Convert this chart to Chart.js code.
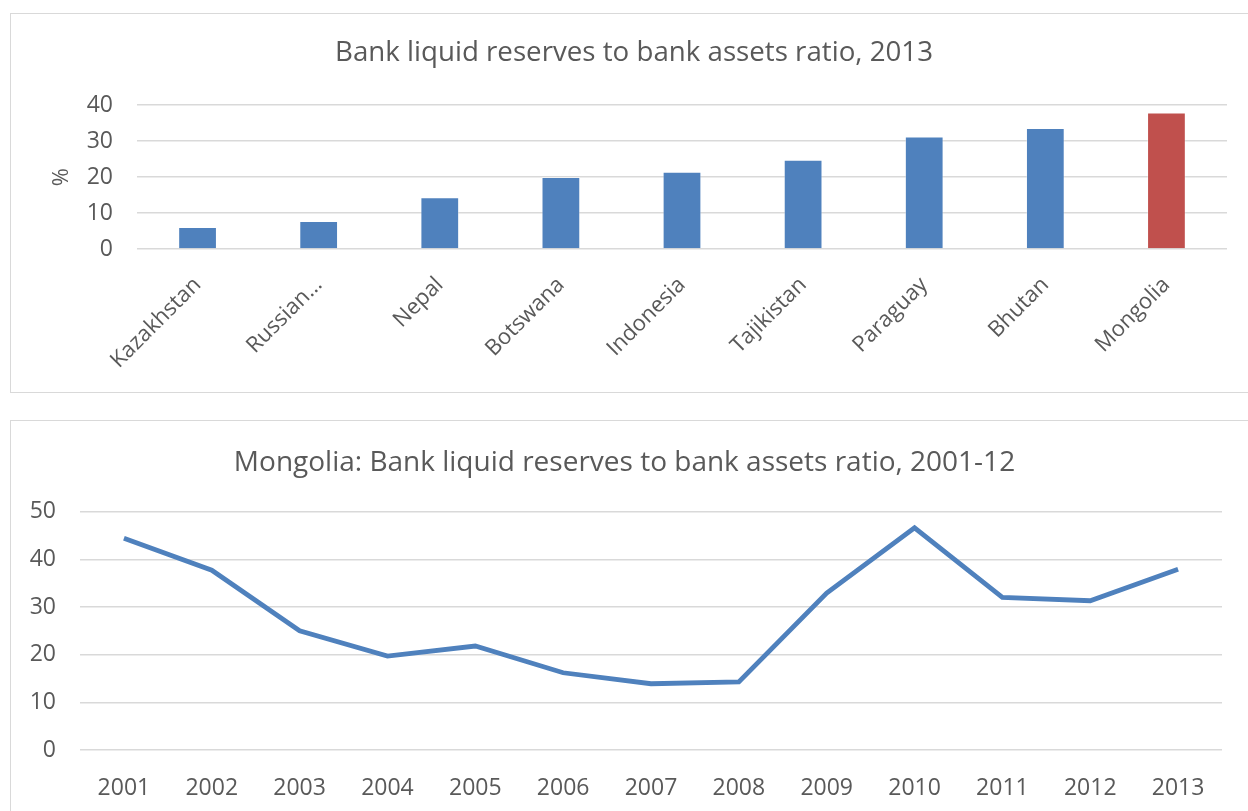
<!DOCTYPE html>
<html>
<head>
<meta charset="utf-8">
<script src="https://cdn.jsdelivr.net/npm/chart.js@4.4.0/dist/chart.umd.min.js"></script>
<style>
  body { margin: 0; background: #fff; width: 1248px; height: 811px; overflow: hidden; position: relative; }
  .box { position: absolute; border: 1px solid #d9d9d9; background: #fff; overflow: hidden; }
  #box1 { left: 10px; top: 13px; width: 1260px; height: 378px; }
  #box2 { left: 10px; top: 420px; width: 1260px; height: 420px; }
  canvas { position: absolute; left: 0; top: 0; }
</style>
</head>
<body>
<div class="box" id="box1"><canvas id="bars" width="1237" height="378"></canvas></div>
<div class="box" id="box2"><canvas id="trend" width="1237" height="390"></canvas></div>
<script>
// top chart: 2013 cross-country comparison
let countries = ["Kazakhstan", "Russian\u2026", "Nepal", "Botswana", "Indonesia", "Tajikistan", "Paraguay", "Bhutan", "Mongolia"];
let ratio2013 = [6.1, 7.8, 14.4, 20.0, 21.5, 24.8, 31.3, 33.7, 38.0];
let barTicks = [0, 10, 20, 30, 40];

// bottom chart: Mongolia over time
let years = ["2001", "2002", "2003", "2004", "2005", "2006", "2007", "2008", "2009", "2010", "2011", "2012", "2013"];
let mongoliaRatio = [44.4, 37.7, 25.0, 19.7, 21.8, 16.2, 13.9, 14.3, 32.9, 46.6, 32.0, 31.3, 37.9];
let lineTicks = [0, 10, 20, 30, 40, 50];

const FONT = "'Open Sans', 'Noto Sans', sans-serif";
const TEXT = "#595959";
const GRID = "#d9d9d9";
const BLUE = "#4f81bd";
const RED = "#c0504d";

Chart.defaults.font.family = FONT;
Chart.defaults.color = TEXT;

new Chart(document.querySelector("#bars"), {
  type: 'bar',
  data: {
    labels: countries,
    datasets: [{
      data: ratio2013,
      backgroundColor: countries.map(c => c === "Mongolia" ? RED : BLUE),
      borderColor: "rgba(255,255,255,0.35)",
      borderWidth: 1,
      categoryPercentage: 1,
      barPercentage: 0.32
    }]
  },
  options: {
    responsive: false,
    animation: false,
    // left padding shifts the title centre to match the original box
    layout: { padding: { left: 30, right: 21, top: 0, bottom: 0 } },
    plugins: {
      legend: { display: false },
      tooltip: { enabled: false },
      title: {
        display: true,
        text: "Bank liquid reserves to bank assets ratio, 2013",
        font: { size: 27.7, weight: 'normal', family: FONT },
        color: TEXT,
        padding: { top: 22, bottom: 36 }
      }
    },
    scales: {
      x: {
        grid: { display: false },
        border: { display: false },
        ticks: { autoSkip: false, minRotation: 45, maxRotation: 45, padding: 15, font: { size: 22 } },
        afterFit: s => { s.height = 143; }
      },
      y: {
        min: 0, max: 40,
        afterBuildTicks: s => { s.ticks = barTicks.map(v => ({ value: v })); },
        grid: { color: GRID, lineWidth: 1.5, drawTicks: false },
        border: { display: false },
        ticks: { padding: 24, font: { size: 23 } },
        title: { display: true, text: "%", font: { size: 22 }, padding: { top: 8, bottom: 0 } },
        afterFit: s => { s.width = 96; }
      }
    }
  }
});

new Chart(document.querySelector("#trend"), {
  type: 'line',
  data: {
    labels: years,
    datasets: [{
      data: mongoliaRatio,
      borderColor: BLUE,
      borderWidth: 4.8,
      pointRadius: 0,
      tension: 0,
      fill: false
    }]
  },
  options: {
    responsive: false,
    animation: false,
    layout: { padding: { left: 16, right: 26, top: 0, bottom: 0 } },
    plugins: {
      legend: { display: false },
      tooltip: { enabled: false },
      title: {
        display: true,
        text: "Mongolia: Bank liquid reserves to bank assets ratio, 2001-12",
        font: { size: 28, weight: 'normal', family: FONT },
        color: TEXT,
        padding: { top: 25, bottom: 32 }
      }
    },
    scales: {
      x: {
        offset: true,
        grid: { display: false },
        border: { display: false },
        ticks: { padding: 17, font: { size: 23 } },
        afterFit: s => { s.height = 61; }
      },
      y: {
        min: 0, max: 50,
        afterBuildTicks: s => { s.ticks = lineTicks.map(v => ({ value: v })); },
        grid: { color: GRID, lineWidth: 1.5, drawTicks: false },
        border: { display: false },
        ticks: { padding: 24, font: { size: 23 } },
        afterFit: s => { s.width = 53; }
      }
    }
  }
});
</script>
</body>
</html>
